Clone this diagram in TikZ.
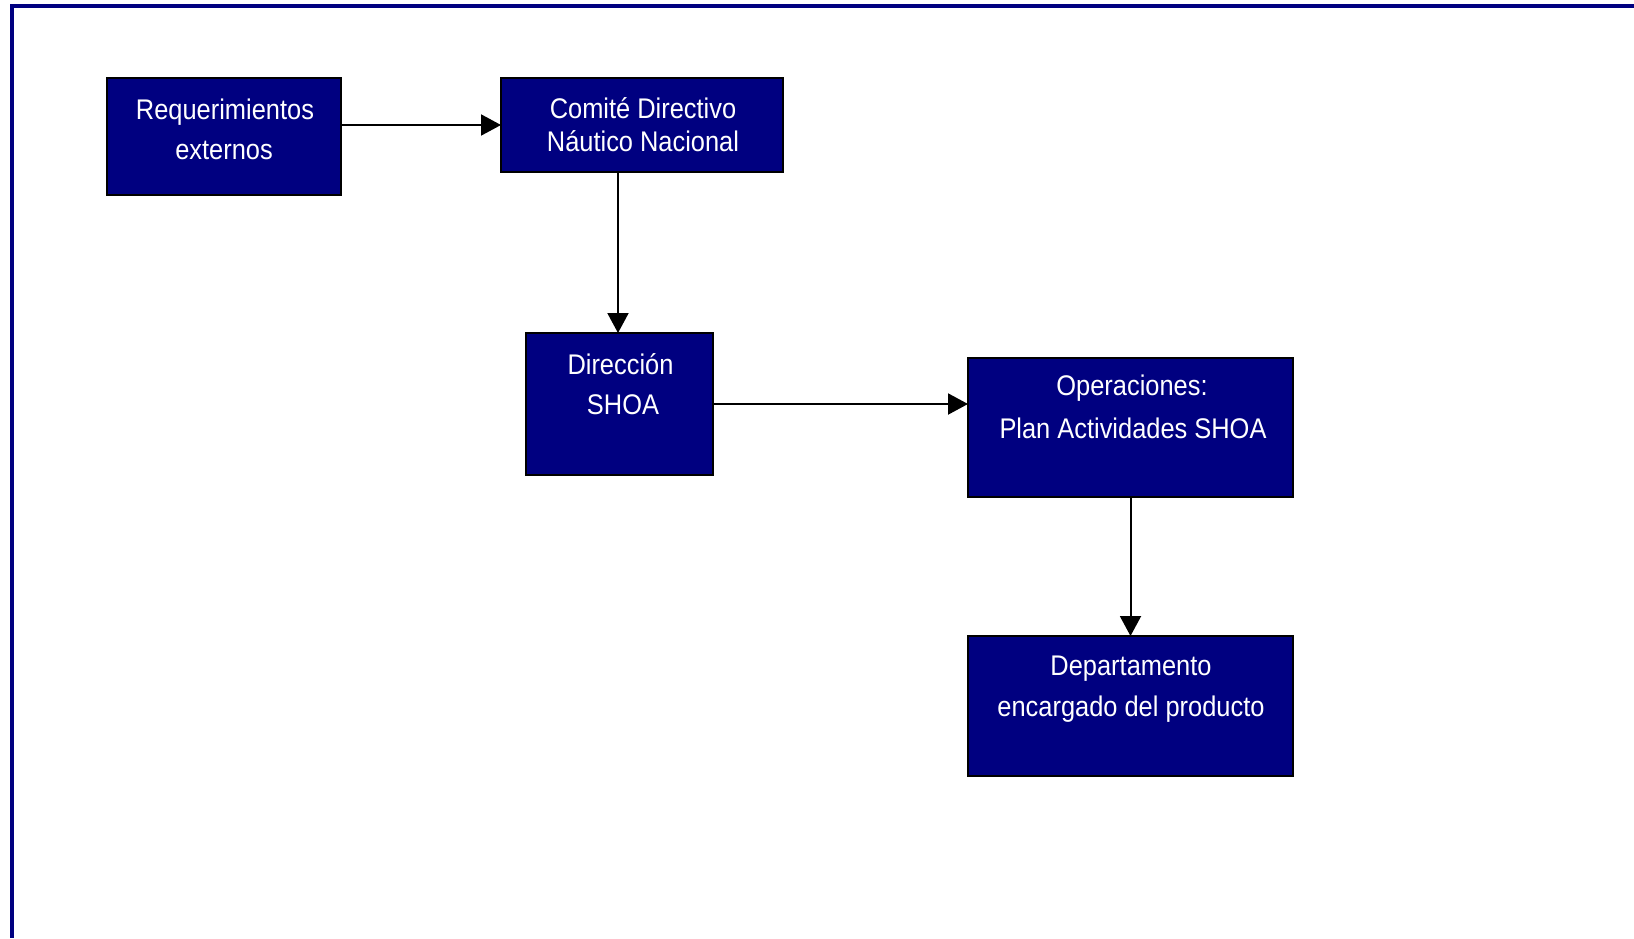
\documentclass[tikz,border=0pt]{standalone}
\usepackage{fontspec}
\setmainfont{Liberation Sans}[FakeStretch=0.895]
\usetikzlibrary{arrows.meta}
\definecolor{navyfill}{HTML}{000080}
\tikzset{
  box/.style={draw=black, line width=0.75pt, fill=navyfill, inner sep=0pt, outer sep=0pt},
  txt/.style={text=white, anchor=base, inner sep=0pt, font=\fontsize{14.2pt}{17pt}\selectfont},
  conn/.style={draw=black, line width=1pt, -{Triangle[length=10pt,width=10.5pt]}},
  frame/.style={draw=navyfill, line width=2pt}
}
\begin{document}
\begin{tikzpicture}[x=0.5pt,y=-0.5pt]
\useasboundingbox (0,0) rectangle (1634,938);
\coordinate (fr1) at (1634,6.3);
\coordinate (fr2) at (12,6.3);
\coordinate (fr3) at (12,938);
\draw[frame] (fr1) -- (fr2) -- (fr3);
% boxes
\node[box, minimum width=117pt, minimum height=58.5pt] (req) at (224,136.5) {};
\node[box, minimum width=141pt, minimum height=47pt] (com) at (642,125) {};
\node[box, minimum width=93.5pt, minimum height=71pt] (dir) at (619.5,404) {};
\node[box, minimum width=162.5pt, minimum height=69.5pt] (oper) at (1130.5,427.5) {};
\node[box, minimum width=162.5pt, minimum height=70pt] (dept) at (1130.5,706) {};
% texts
\node[txt] (req1) at (225,119) {Requerimientos};
\node[txt] (req2) at (224,159) {externos};
\node[txt] (com1) at (643,118.3) {Comité Directivo};
\node[txt] (com2) at (643,151.7) {Náutico Nacional};
\node[txt] (dir1) at (620.5,374.3) {Dirección};
\node[txt] (dir2) at (623,414) {SHOA};
\node[txt] (oper1) at (1132,395) {Operaciones:};
\node[txt] (oper2) at (1133,438.3) {Plan Actividades SHOA};
\node[txt] (dept1) at (1131,675) {Departamento};
\node[txt] (dept2) at (1131,716) {encargado del producto};
% connectors
\draw[conn] (req.east |- com.west) -- (com.west);
\draw[conn] ([xshift=-0.75pt]com.south -| dir.north) -- ([xshift=-0.75pt]dir.north);
\draw[conn] (dir.east) -- (dir.east -| oper.west);
\draw[conn] (oper.south) -- (dept.north);
\end{tikzpicture}
\end{document}
